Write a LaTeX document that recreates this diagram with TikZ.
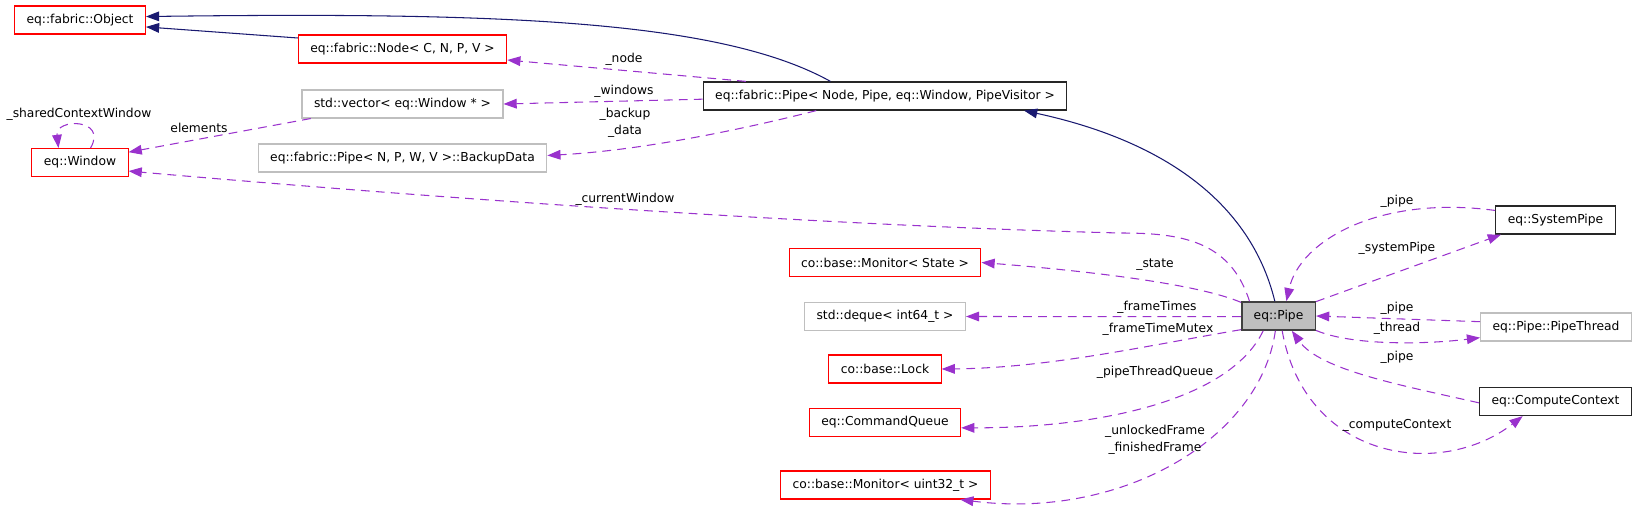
\documentclass[tikz,border=0pt]{standalone}
\usepackage{fontspec}
\setmainfont{DejaVu Sans}
\usetikzlibrary{arrows.meta}
\definecolor{inheritblue}{HTML}{191970}
\definecolor{memberpurple}{HTML}{9A32CD}
\definecolor{boxred}{HTML}{FF0000}
\definecolor{boxgray}{HTML}{BFBFBF}

\begin{document}
\begin{tikzpicture}[
  x=0.02cm, y=-0.02cm,
  font=\fontsize{7}{8.4}\selectfont,
  box/.style={draw, rectangle, minimum height=0.56cm, inner xsep=0.24cm, inner ysep=0pt, line width=0.6pt, align=center},
  redbox/.style={box, draw=boxred},
  graybox/.style={box, draw=boxgray},
  blackbox/.style={box, draw=black!85, line width=0.7pt},
  focusbox/.style={box, fill=boxgray, draw=black!75, line width=0.9pt},
  inherit/.style={-{Triangle[length=7.5pt,width=5.5pt]}, inheritblue, line width=0.6pt},
  member/.style={-{Triangle[length=7.5pt,width=5.5pt]}, memberpurple, line width=0.6pt, dash pattern=on 5pt off 3.5pt},
  lbl/.style={inner sep=0pt, align=center},
]
\useasboundingbox (0,0) rectangle (1639,510);

% ====== CLASSES ======
\node[redbox] (object) at (80,20) {eq::fabric::Object};
\node[redbox] (fabnode) at (402.5,49) {eq::fabric::Node< C, N, P, V >};
\node[graybox] (vec) at (402.5,104) {std::vector< eq::Window * >};
\node[redbox] (window) at (80,162.5) {eq::Window};
\node[graybox] (backup) at (402.5,158) {eq::fabric::Pipe< N, P, W, V >::BackupData};
\node[blackbox] (fabpipe) at (885,96) {eq::fabric::Pipe< Node, Pipe, eq::Window, PipeVisitor >};

% members on the left of eq::Pipe
\node[redbox] (monstate) at (885,262.5) {co::base::Monitor< State >};
\node[graybox] (deque) at (885,316.5) {std::deque< int64\_t >};
\node[redbox] (lock) at (885,369) {co::base::Lock};
\node[redbox] (cmdqueue) at (885,422.5) {eq::CommandQueue};
\node[redbox] (monuint) at (885.5,485) {co::base::Monitor< uint32\_t >};

% the documented class
\node[focusbox] (pipe) at (1278.5,316) {eq::Pipe};

% members on the right of eq::Pipe
\node[blackbox] (syspipe) at (1555.5,220) {eq::SystemPipe};
\node[graybox] (pipethread) at (1556,327) {eq::Pipe::PipeThread};
\node[blackbox] (compute) at (1555.5,401.5) {eq::ComputeContext};

% ====== INHERITANCE ======
\draw[inherit] (fabnode.174.6) -- (object.354.8);
\draw[inherit] (fabpipe.165.7) .. controls (720,20) and (500,12) .. (object.3.5);
\draw[inherit] (pipe.104) .. controls (1250,200) and (1160,140) .. (fabpipe.354.5);

% ====== USAGE ======
\draw[member] (fabpipe.174.6) -- (fabnode.354.1);
\draw[member] (fabpipe.181) -- (vec.east);
\draw[member] (fabpipe.192.7) .. controls (760,125) and (650,150) .. (backup.1.9);
\draw[member] (vec.189.9) -- (window.12.6);
\draw[member] (window.54) .. controls (108,118) and (55,118) .. (window.146.6);
\draw[member] (pipe.153) .. controls (1230,240) and (1180,233) .. (1120,233)
  .. controls (800,225) and (400,195) .. (window.350.9);
\draw[member] (pipe.160) .. controls (1200,285) and (1100,272) .. (monstate.east);
\draw[member] (pipe.181) -- (deque.east);
\draw[member] (pipe.200) .. controls (1150,345) and (1050,368) .. (lock.east);
\draw[member] (pipe.224) .. controls (1230,400) and (1100,428) .. (cmdqueue.356);
\draw[member] (pipe.258) .. controls (1260,440) and (1120,520) .. (monuint.349.6);
\draw[member] (syspipe.171.7) .. controls (1380,195) and (1300,240) .. (pipe.62);
\draw[member] (pipe.21) -- (syspipe.195.5);
\draw[member] (pipethread.176.2) -- (pipe.east);
\draw[member] (pipe.339) .. controls (1350,345) and (1420,345) .. (pipethread.188.2);
\draw[member] (compute.181) .. controls (1400,385) and (1320,370) .. (pipe.312);
\draw[member] (pipe.284) .. controls (1305,460) and (1440,480) .. (compute.204);

% ====== LABELS ======
\node[lbl] (lshared) at (79,114) {\_sharedContextWindow};
\node[lbl] (lelements) at (199,128) {elements};
\node[lbl] (lnode) at (624,59) {\_node};
\node[lbl] (lwindows) at (624,91) {\_windows};
\node[lbl] (lbackup) at (625,123) {\_backup\\[1.2pt]\_data};
\node[lbl] (lcurrent) at (625,199) {\_currentWindow};
\node[lbl] (lstate) at (1155,265) {\_state};
\node[lbl] (lframetimes) at (1157,307) {\_frameTimes};
\node[lbl] (lmutex) at (1158,329) {\_frameTimeMutex};
\node[lbl] (lqueue) at (1155,372) {\_pipeThreadQueue};
\node[lbl] (lframe) at (1155,440) {\_unlockedFrame\\[1.2pt]\_finishedFrame};
\node[lbl] (lsyspipe) at (1397,201) {\_pipe};
\node[lbl] (lsystem) at (1397,248) {\_systemPipe};
\node[lbl] (lthreadpipe) at (1397,308) {\_pipe};
\node[lbl] (lthread) at (1397,328) {\_thread};
\node[lbl] (lcomputepipe) at (1397,357) {\_pipe};
\node[lbl] (lcompute) at (1397,425) {\_computeContext};

\end{tikzpicture}
\end{document}
